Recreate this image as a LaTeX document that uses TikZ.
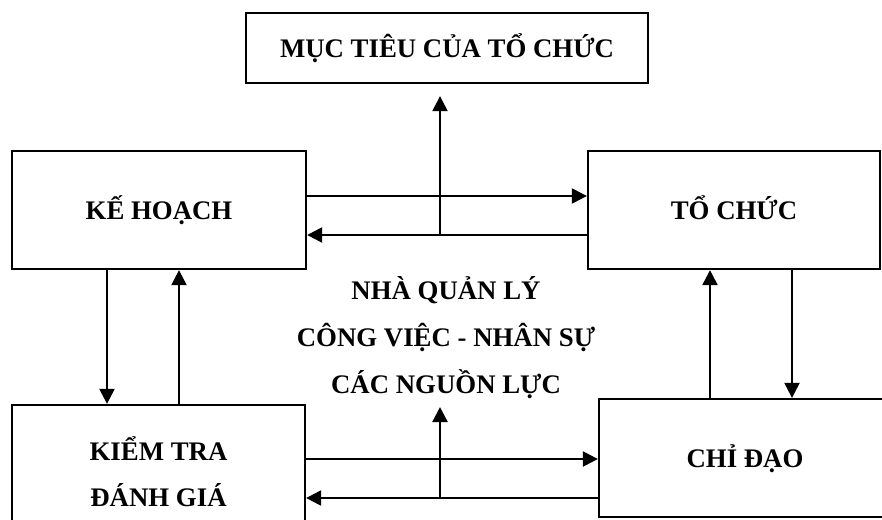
\documentclass[tikz,border=0pt]{standalone}
\usepackage{fontspec}
\setmainfont{Liberation Serif}
\usetikzlibrary{positioning,calc,arrows.meta}

\begin{document}
\begin{tikzpicture}[
  x = 1pt,
  y = -1pt,
  box/.style = {
    draw,
    rectangle,
    line width = 2.3pt,
    fill = white,
    font = \fontsize{26.8}{46}\selectfont\bfseries,
    align = center,
    inner sep = 0pt,
  },
  onerow/.style = {
    box,
    text height = 18pt,
    text depth = 0pt,
  },
  flow/.style = {
    line width = 2.3pt,
  },
  >={Triangle[length=15pt,width=15pt]},
]

  \useasboundingbox (0,0) rectangle (882,519);

  \node[onerow,minimum width=402pt,minimum height=70pt] (goal) at (447,48) {MỤC TIÊU CỦA TỔ CHỨC};
  \node[onerow,minimum width=294pt,minimum height=118pt] (plan) at (159,210) {KẾ HOẠCH};
  \node[onerow,minimum width=292pt,minimum height=118pt] (org) at (734,210) {TỔ CHỨC};
  \node[box,minimum width=293pt,minimum height=134pt] (check) at (158.5,472) {KIỂM TRA\\ĐÁNH GIÁ};
  \node[onerow,minimum width=292pt,minimum height=118pt] (lead) at (745,458) {CHỈ ĐẠO};

  \node[font=\fontsize{26.8}{47}\selectfont\bfseries,align=center] (mgr) at (446,338)
    {NHÀ QUẢN LÝ\\CÔNG VIỆC - NHÂN SỰ\\CÁC NGUỒN LỰC};

  % plan <-> org, and up to the goal
  \coordinate (topout) at ([yshift=14pt]plan.east);
  \coordinate (topret) at ([yshift=-25pt]org.west);
  \coordinate (goalin) at ([xshift=-7pt,yshift=-12pt]goal.south);
  \draw[flow,->] (topout) -- (topout -| org.west);
  \draw[flow,->] (topret) -- (topret -| plan.east);
  \draw[flow,->] (goalin |- topret) -- (goalin);

  % check <-> lead, and up to the manager
  \coordinate (botout) at ([yshift=13pt]check.east);
  \coordinate (botret) at ([yshift=-26pt]check.east);
  \coordinate (mgrin) at (440,407);
  \draw[flow,->] (botout) -- (botout -| lead.west);
  \draw[flow,->] (botret -| lead.west) -- (botret);
  \draw[flow,->] (mgrin |- botret) -- (mgrin);

  % plan <-> check
  \coordinate (pdown) at ([xshift=-52pt]plan.south);
  \coordinate (pup) at ([xshift=20pt]plan.south);
  \draw[flow,->] (pdown) -- (pdown |- check.north);
  \draw[flow,->] (pup |- check.north) -- (pup);

  % lead <-> org
  \coordinate (oup) at ([xshift=-24pt]org.south);
  \coordinate (odown) at ([xshift=58pt]org.south);
  \draw[flow,->] (oup |- lead.north) -- (oup);
  \draw[flow,->] (odown) -- (odown |- lead.north);

\end{tikzpicture}
\end{document}
